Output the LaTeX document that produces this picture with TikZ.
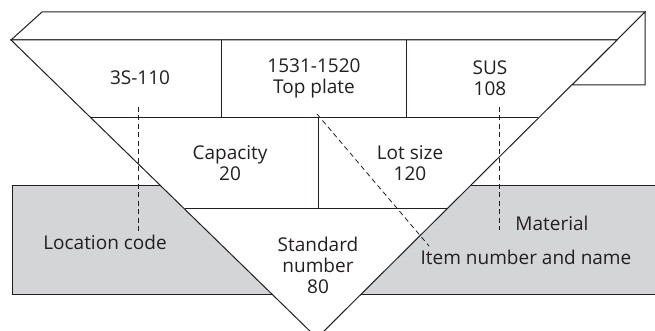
\documentclass[tikz,border=0pt]{standalone}
\usepackage{fontspec}
\setmainfont{Open Sans}
\usetikzlibrary{calc}
\definecolor{inkgrey}{HTML}{231F20}
\definecolor{shelfgrey}{HTML}{D4D5D7}
\begin{document}
\begin{tikzpicture}[x=1pt, y=-1pt,
  edge/.style={line width=1pt, draw=inkgrey},
  leader/.style={line width=0.8pt, draw=inkgrey, dash pattern=on 5pt off 3.5pt},
  cell/.style={align=center, text=inkgrey, font=\fontsize{19}{21}\selectfont},
  tag/.style={text=inkgrey, font=\fontsize{19}{21}\selectfont}]
\useasboundingbox (0,0) rectangle (655,331);

% Shelf behind the triangle
\draw[edge, fill=shelfgrey] (12,185) rectangle (662,294);

% Corners of the triangular card
\coordinate (tl) at (11,40);
\coordinate (tr) at (617,40);
\coordinate (v) at (317,338);
\coordinate (btl) at (42,12);
\coordinate (btr) at (645,12);

% Top band, side and front face
\draw[edge, fill=white] (tl) -- (btl) -- (btr) -- (tr) -- cycle;
\draw[edge, fill=white] (btr) -- (645,85) -- (572,85) -- cycle;
\draw[edge, fill=white] (tl) -- (tr) -- (v) -- cycle;

% Rows and cells
\draw[edge] ($(tl)!0.2617!(v)$) -- ($(tr)!0.2617!(v)$);
\draw[edge] ($(tl)!0.5671!(v)$) -- ($(tr)!0.5671!(v)$);
\draw[edge] (221,40) -- (221,118);
\draw[edge] (406,40) -- (406,118);
\draw[edge] (318,118) -- (318,209);

% Texts in the card
\node[cell] (loc) at (140,78) {3S-110};
\node[cell] (item) at (314,78) {1531-1520\\Top plate};
\node[cell] (mat) at (490,78) {SUS\\108};
\node[cell] (cap) at (230,163) {Capacity\\20};
\node[cell] (lot) at (410,163) {Lot size\\120};
\node[cell] (std) at (318,265) {Standard\\number\\80};

% Labels on the shelf
\node[tag] (locname) at (105,242) {Location code};
\node[tag] (matname) at (552,223) {Material};
\node[tag] (itemname) at (526,257) {Item number and name};

% Leaders
\coordinate (locpin) at (138,107);
\coordinate (matpin) at (499,107);
\coordinate (itempin) at (317,114);
\draw[leader] (locpin) -- (locpin |- locname.north);
\draw[leader] (matpin) -- (matpin |- matname.base);
\draw[leader] (itempin) -- ([xshift=12pt]itemname.north west);
\end{tikzpicture}
\end{document}
